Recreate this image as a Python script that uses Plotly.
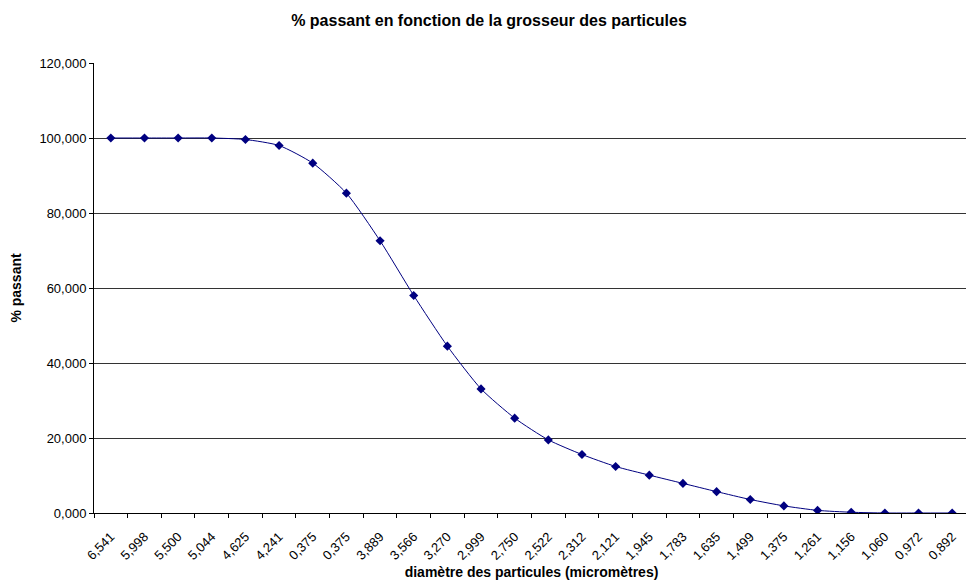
import plotly.graph_objects as go

# diamètres (étiquettes telles qu'affichées dans le classeur)
diametres = ["6,541", "5,998", "5,500", "5,044", "4,625", "4,241", "0,375", "0,375",
             "3,889", "3,566", "3,270", "2,999", "2,750", "2,522", "2,312", "2,121",
             "1,945", "1,783", "1,635", "1,499", "1,375", "1,261", "1,156", "1,060",
             "0,972", "0,892"]
pct_passant = [100.0, 100.0, 100.0, 100.0, 99.6, 98.0, 93.3, 85.3, 72.6, 58.0,
               44.5, 33.1, 25.3, 19.5, 15.6, 12.4, 10.1, 7.9, 5.7, 3.6,
               1.9, 0.7, 0.2, 0.0, 0.0, 0.0]
y_ticks = [0, 20, 40, 60, 80, 100, 120]
y_labels = ["0,000", "20,000", "40,000", "60,000", "80,000", "100,000", "120,000"]

idx = list(range(len(diametres)))

fig = go.Figure(go.Scatter(x=idx, y=pct_passant, mode='lines+markers',
                           line=dict(color='#000080', width=1, shape='spline', smoothing=0.6),
                           marker=dict(symbol='diamond', size=7, color='#000080')))

# la page html a une marge de 8 px autour de la figure
fig.update_layout(width=962, height=572, plot_bgcolor='white', paper_bgcolor='white',
                  margin=dict(l=86, r=1, t=55, b=67), showlegend=False,
                  font=dict(family='Liberation Sans, Arial', size=13, color='black'),
                  title=dict(text='<b>% passant en fonction de la grosseur des particules</b>',
                             x=0.5, xanchor='center', y=0.979, yanchor='middle',
                             font=dict(size=16)))

fig.update_xaxes(range=[-0.5, len(idx) - 0.5], tickvals=idx, ticktext=diametres,
                 tickangle=-45, ticks='', showgrid=False, zeroline=False, automargin=False,
                 ticklabelstandoff=10,
                 showline=True, linecolor='black', linewidth=1, mirror=False,
                 minor=dict(tick0=-0.5, dtick=1, ticks='outside', ticklen=4, tickcolor='black'),
                 title=dict(text='<b>diamètre des particules (micromètres)</b>', standoff=11,
                            font=dict(size=14)))

fig.update_yaxes(range=[0, 120], tickvals=y_ticks, ticktext=y_labels, automargin=False,
                 ticks='outside', ticklen=4, tickcolor='black',
                 showgrid=True, gridcolor='#333333', gridwidth=1, zeroline=False,
                 showline=True, linecolor='black', linewidth=1,
                 title=dict(text='<b>% passant</b>', standoff=22, font=dict(size=14)))

# bord droit gris du cadre
fig.add_shape(type='line', xref='paper', yref='paper', x0=1, x1=1, y0=0, y1=1,
              line=dict(color='#808080', width=1))

fig.write_html("out.html")
